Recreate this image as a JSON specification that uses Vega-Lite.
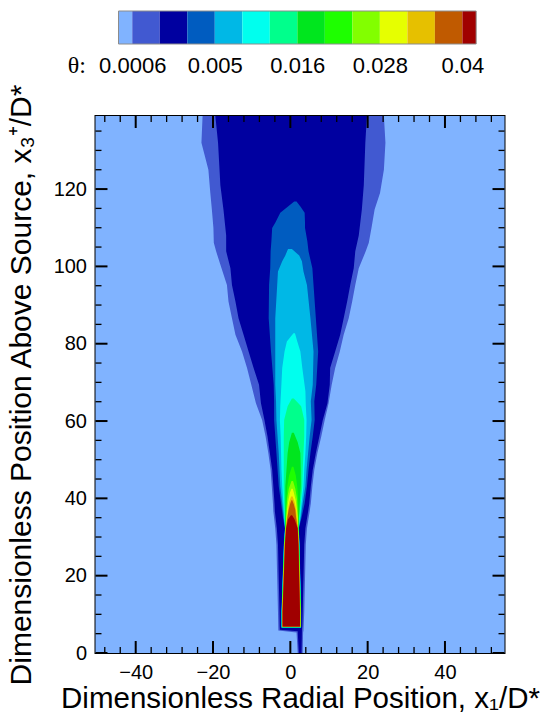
{
  "$schema": "https://vega.github.io/schema/vega-lite/v6.json",
  "padding": {"left": 5.5, "top": 10, "right": 0, "bottom": 0},
  "background": "white",
  "spacing": 72,
  "bounds": "flush",
  "config": {
    "font": "Liberation Sans",
    "axis": {"grid": false, "domain": false, "labelColor": "black", "titleColor": "black", "tickColor": "black", "labelFont": "Liberation Sans", "titleFont": "Liberation Sans", "titleFontWeight": "normal", "labelOverlap": false, "labelFlush": false}
  },
  "datasets": {
    "xmaj": [{"xl": -40}, {"xl": -20}, {"xl": 0}, {"xl": 20}, {"xl": 40}],
    "xmin": [{"xl": -48}, {"xl": -44}, {"xl": -36}, {"xl": -32}, {"xl": -28}, {"xl": -24}, {"xl": -16}, {"xl": -12}, {"xl": -8}, {"xl": -4}, {"xl": 4}, {"xl": 8}, {"xl": 12}, {"xl": 16}, {"xl": 24}, {"xl": 28}, {"xl": 32}, {"xl": 36}, {"xl": 44}, {"xl": 48}, {"xl": 52}],
    "ymaj": [{"y": 0}, {"y": 20}, {"y": 40}, {"y": 60}, {"y": 80}, {"y": 100}, {"y": 120}],
    "ymin": [{"y": 5}, {"y": 10}, {"y": 15}, {"y": 25}, {"y": 30}, {"y": 35}, {"y": 45}, {"y": 50}, {"y": 55}, {"y": 65}, {"y": 70}, {"y": 75}, {"y": 85}, {"y": 90}, {"y": 95}, {"y": 105}, {"y": 110}, {"y": 115}, {"y": 125}, {"y": 130}, {"y": 135}]
  },
  "vconcat": [
    {
      "width": 409,
      "height": 33,
      "view": {"stroke": null},
      "data": {"values": [
        {"band": 0, "i0": 0.5, "i1": 1},
        {"band": 1, "i0": 1, "i1": 2},
        {"band": 2, "i0": 2, "i1": 3},
        {"band": 3, "i0": 3, "i1": 4},
        {"band": 4, "i0": 4, "i1": 5},
        {"band": 5, "i0": 5, "i1": 6},
        {"band": 6, "i0": 6, "i1": 7},
        {"band": 7, "i0": 7, "i1": 8},
        {"band": 8, "i0": 8, "i1": 9},
        {"band": 9, "i0": 9, "i1": 10},
        {"band": 10, "i0": 10, "i1": 11},
        {"band": 11, "i0": 11, "i1": 12},
        {"band": 12, "i0": 12, "i1": 13},
        {"band": 13, "i0": 13, "i1": 13.5}
      ]},
      "layer": [
        {
          "mark": {"type": "rect"},
          "encoding": {
            "x": {"field": "i0", "type": "quantitative",
              "scale": {"domain": [-0.336, 14.53], "nice": false, "zero": false},
              "axis": {"values": [1, 4, 7, 10, 13],
                "labelExpr": "datum.value == 1 ? '0.0006' : datum.value == 4 ? '0.005' : datum.value == 7 ? '0.016' : datum.value == 10 ? '0.028' : '0.04'",
                "ticks": false, "tickSize": 0, "labelPadding": 28, "labelBaseline": "alphabetic", "labelFontSize": 22,
                "title": "θ:", "titleFont": "Liberation Serif", "titleFontSize": 24, "titleFontWeight": "normal",
                "titleAlign": "right", "titleX": -10, "titleY": 28.5, "titleBaseline": "alphabetic"}},
            "x2": {"field": "i1"},
            "color": {"field": "band", "type": "ordinal",
              "scale": {"domain": [0,1,2,3,4,5,6,7,8,9,10,11,12,13],
                "range": ["#80b3ff","#4159d1","#0000a0","#005cc0","#00b8e6","#00ffee","#00ff8c","#00e61e","#1eff00","#82ff00","#e6ff00","#e6c000","#c05a00","#a00000"]},
              "legend": null}
          }
        },
        {
          "data": {"values": [{"i0": 0.5, "i1": 13.5}]},
          "mark": {"type": "rect", "filled": false, "stroke": "#8c8c8c", "strokeWidth": 1},
          "encoding": {
            "x": {"field": "i0", "type": "quantitative"},
            "x2": {"field": "i1"}
          }
        }
      ]
    },
    {
      "width": 409,
      "height": 537,
      "view": {"stroke": "black", "strokeWidth": 2},
      "data": {"values": [
        {"band":1,"y":0,"xl":1.9,"xr":3.2},{"band":1,"y":5.3,"xl":1.6,"xr":3.3},{"band":1,"y":5.8,"xl":-3.1,"xr":3.4},{"band":1,"y":10.7,"xl":-3.2,"xr":3.6},{"band":1,"y":19.3,"xl":-3.4,"xr":3.8},{"band":1,"y":28,"xl":-3.6,"xr":4.0},{"band":1,"y":32.3,"xl":-3.9,"xr":4.3},{"band":1,"y":36.6,"xl":-4.4,"xr":5.0},{"band":1,"y":38.7,"xl":-4.5,"xr":5.3},{"band":1,"y":43.1,"xl":-4.8,"xr":5.7},{"band":1,"y":47.4,"xl":-5.1,"xr":6.2},{"band":1,"y":51.7,"xl":-5.7,"xr":7.0},{"band":1,"y":56,"xl":-6.4,"xr":8.0},{"band":1,"y":60.3,"xl":-7.3,"xr":8.9},{"band":1,"y":64.6,"xl":-8.9,"xr":9.9},{"band":1,"y":69.4,"xl":-10.1,"xr":10.7},{"band":1,"y":73.7,"xl":-11.2,"xr":11.6},{"band":1,"y":78,"xl":-12.5,"xr":12.8},{"band":1,"y":82.3,"xl":-14.2,"xr":13.8},{"band":1,"y":86.6,"xl":-15.1,"xr":15.1},{"band":1,"y":90.9,"xl":-16.0,"xr":16.0},{"band":1,"y":95.2,"xl":-16.4,"xr":16.8},{"band":1,"y":99.5,"xl":-17.8,"xr":17.7},{"band":1,"y":103.9,"xl":-19.2,"xr":19.5},{"band":1,"y":106.1,"xl":-19.8,"xr":20.3},{"band":1,"y":110,"xl":-19.9,"xr":21.0},{"band":1,"y":114.7,"xl":-20.3,"xr":21.8},{"band":1,"y":119,"xl":-20.7,"xr":23.2},{"band":1,"y":125,"xl":-21.2,"xr":24.2},{"band":1,"y":132,"xl":-23.0,"xr":24.6},{"band":1,"y":138.9,"xl":-22.7,"xr":24.2},
        {"band":2,"y":0,"xl":2.2,"xr":2.9},{"band":2,"y":5.6,"xl":1.9,"xr":3.0},{"band":2,"y":6.0,"xl":-2.7,"xr":3.0},{"band":2,"y":7.0,"xl":-2.75,"xr":3.1},{"band":2,"y":10.7,"xl":-2.8,"xr":3.2},{"band":2,"y":19.3,"xl":-3.0,"xr":3.4},{"band":2,"y":28,"xl":-3.2,"xr":3.6},{"band":2,"y":32.3,"xl":-3.5,"xr":3.9},{"band":2,"y":36.6,"xl":-4.0,"xr":4.6},{"band":2,"y":38.7,"xl":-4.1,"xr":4.9},{"band":2,"y":43.1,"xl":-4.4,"xr":5.3},{"band":2,"y":47.4,"xl":-4.7,"xr":5.8},{"band":2,"y":51.7,"xl":-5.3,"xr":6.6},{"band":2,"y":56,"xl":-5.9,"xr":7.5},{"band":2,"y":60.3,"xl":-6.7,"xr":8.4},{"band":2,"y":64.6,"xl":-7.6,"xr":9.6},{"band":2,"y":69.4,"xl":-8.1,"xr":10.2},{"band":2,"y":73.7,"xl":-9.5,"xr":10.3},{"band":2,"y":78,"xl":-10.8,"xr":11.6},{"band":2,"y":82.3,"xl":-12.1,"xr":12.9},{"band":2,"y":86.6,"xl":-13.4,"xr":13.8},{"band":2,"y":90.9,"xl":-14.2,"xr":14.7},{"band":2,"y":95.2,"xl":-15.1,"xr":15.5},{"band":2,"y":99.5,"xl":-15.5,"xr":16.4},{"band":2,"y":103.9,"xl":-16.6,"xr":16.8},{"band":2,"y":108,"xl":-16.6,"xr":17.7},{"band":2,"y":114.7,"xl":-17.3,"xr":18.5},{"band":2,"y":121,"xl":-18.1,"xr":19.0},{"band":2,"y":132,"xl":-18.7,"xr":19.4},{"band":2,"y":138.9,"xl":-19.4,"xr":19.8},
        {"band":3,"y":6.55,"xl":-2.3,"xr":2.8},{"band":3,"y":10.7,"xl":-2.3,"xr":2.8},{"band":3,"y":19.3,"xl":-2.0,"xr":2.6},{"band":3,"y":28,"xl":-1.7,"xr":2.4},{"band":3,"y":32.3,"xl":-1.4,"xr":2.2},{"band":3,"y":35,"xl":-1.9,"xr":2.9},{"band":3,"y":38.7,"xl":-2.4,"xr":3.7},{"band":3,"y":43.1,"xl":-3.0,"xr":4.3},{"band":3,"y":47.4,"xl":-3.3,"xr":4.7},{"band":3,"y":51.7,"xl":-3.6,"xr":5.2},{"band":3,"y":56,"xl":-3.9,"xr":5.8},{"band":3,"y":60.3,"xl":-4.2,"xr":6.3},{"band":3,"y":65.1,"xl":-4.2,"xr":6.2},{"band":3,"y":69.4,"xl":-4.3,"xr":6.7},{"band":3,"y":78,"xl":-5.0,"xr":7.2},{"band":3,"y":86.6,"xl":-5.6,"xr":6.6},{"band":3,"y":95.2,"xl":-5.5,"xr":6.0},{"band":3,"y":99.5,"xl":-5.2,"xr":5.7},{"band":3,"y":103.9,"xl":-5.1,"xr":4.7},{"band":3,"y":106.5,"xl":-4.9,"xr":4.4},{"band":3,"y":109.9,"xl":-4.7,"xr":3.8},{"band":3,"y":111.3,"xl":-3.9,"xr":3.8},{"band":3,"y":113.9,"xl":-2.6,"xr":3.7},{"band":3,"y":115.5,"xl":-0.6,"xr":2.6},{"band":3,"y":116.8,"xl":1.0,"xr":1.6},
        {"band":4,"y":6.58,"xl":-2.27,"xr":2.77},{"band":4,"y":10.7,"xl":-2.27,"xr":2.77},{"band":4,"y":19.3,"xl":-1.97,"xr":2.57},{"band":4,"y":28,"xl":-1.67,"xr":2.37},{"band":4,"y":32.3,"xl":-1.37,"xr":2.17},{"band":4,"y":35,"xl":-1.7,"xr":2.7},{"band":4,"y":38.7,"xl":-2.1,"xr":3.2},{"band":4,"y":43.1,"xl":-2.6,"xr":3.9},{"band":4,"y":47.4,"xl":-2.8,"xr":4.2},{"band":4,"y":51.7,"xl":-3.0,"xr":4.6},{"band":4,"y":56,"xl":-3.3,"xr":5.0},{"band":4,"y":60.3,"xl":-3.6,"xr":5.5},{"band":4,"y":65.1,"xl":-3.7,"xr":5.3},{"band":4,"y":69.4,"xl":-3.9,"xr":5.8},{"band":4,"y":78,"xl":-3.9,"xr":6.0},{"band":4,"y":86.6,"xl":-3.9,"xr":5.2},{"band":4,"y":95.2,"xl":-3.4,"xr":4.3},{"band":4,"y":98.7,"xl":-3.2,"xr":3.4},{"band":4,"y":101.3,"xl":-2.1,"xr":3.0},{"band":4,"y":102.8,"xl":-1.3,"xr":2.3},{"band":4,"y":104.5,"xl":-0.6,"xr":0.4},
        {"band":5,"y":6.61,"xl":-2.24,"xr":2.74},{"band":5,"y":10.7,"xl":-2.24,"xr":2.74},{"band":5,"y":19.3,"xl":-1.94,"xr":2.54},{"band":5,"y":28,"xl":-1.64,"xr":2.34},{"band":5,"y":32.3,"xl":-1.34,"xr":2.14},{"band":5,"y":35,"xl":-1.55,"xr":2.5},{"band":5,"y":38.7,"xl":-1.8,"xr":2.9},{"band":5,"y":43.1,"xl":-2.1,"xr":3.4},{"band":5,"y":47.4,"xl":-2.3,"xr":3.6},{"band":5,"y":51.7,"xl":-2.4,"xr":3.9},{"band":5,"y":56,"xl":-2.5,"xr":4.1},{"band":5,"y":60.3,"xl":-2.7,"xr":4.2},{"band":5,"y":64,"xl":-2.6,"xr":4.0},{"band":5,"y":67.7,"xl":-2.4,"xr":3.9},{"band":5,"y":73.7,"xl":-2.1,"xr":3.1},{"band":5,"y":78,"xl":-1.5,"xr":2.6},{"band":5,"y":80.6,"xl":-0.9,"xr":1.8},{"band":5,"y":82.7,"xl":0.8,"xr":1.2},
        {"band":6,"y":6.64,"xl":-2.21,"xr":2.71},{"band":6,"y":10.7,"xl":-2.21,"xr":2.71},{"band":6,"y":19.3,"xl":-1.91,"xr":2.51},{"band":6,"y":28,"xl":-1.61,"xr":2.31},{"band":6,"y":32.3,"xl":-1.31,"xr":2.11},{"band":6,"y":35,"xl":-1.45,"xr":2.35},{"band":6,"y":38.7,"xl":-1.6,"xr":2.7},{"band":6,"y":43.1,"xl":-1.7,"xr":3.1},{"band":6,"y":47.4,"xl":-1.7,"xr":3.2},{"band":6,"y":51.7,"xl":-1.7,"xr":3.4},{"band":6,"y":56,"xl":-1.7,"xr":3.6},{"band":6,"y":60.3,"xl":-1.6,"xr":3.6},{"band":6,"y":63.8,"xl":-0.7,"xr":2.8},{"band":6,"y":65.8,"xl":0.4,"xr":0.9},
        {"band":7,"y":6.67,"xl":-2.18,"xr":2.68},{"band":7,"y":10.7,"xl":-2.18,"xr":2.68},{"band":7,"y":19.3,"xl":-1.88,"xr":2.48},{"band":7,"y":28,"xl":-1.58,"xr":2.28},{"band":7,"y":32.3,"xl":-1.28,"xr":2.08},{"band":7,"y":34.9,"xl":-1.3,"xr":2.2},{"band":7,"y":38,"xl":-1.3,"xr":2.4},{"band":7,"y":43.1,"xl":-1.3,"xr":2.7},{"band":7,"y":47.4,"xl":-1.0,"xr":2.7},{"band":7,"y":51.7,"xl":-0.7,"xr":2.6},{"band":7,"y":54.5,"xl":-0.3,"xr":1.9},{"band":7,"y":57,"xl":0.4,"xr":0.9},
        {"band":8,"y":6.7,"xl":-2.15,"xr":2.65},{"band":8,"y":10.7,"xl":-2.15,"xr":2.65},{"band":8,"y":19.3,"xl":-1.85,"xr":2.45},{"band":8,"y":28,"xl":-1.55,"xr":2.25},{"band":8,"y":32.3,"xl":-1.25,"xr":2.05},{"band":8,"y":34.9,"xl":-1.2,"xr":2.1},{"band":8,"y":37,"xl":-1.15,"xr":2.1},{"band":8,"y":40,"xl":-1.0,"xr":2.0},{"band":8,"y":43,"xl":-0.8,"xr":1.8},{"band":8,"y":46,"xl":-0.3,"xr":1.4},{"band":8,"y":48.2,"xl":0.4,"xr":0.8},
        {"band":9,"y":6.73,"xl":-2.12,"xr":2.62},{"band":9,"y":10.7,"xl":-2.12,"xr":2.62},{"band":9,"y":19.3,"xl":-1.82,"xr":2.42},{"band":9,"y":28,"xl":-1.52,"xr":2.22},{"band":9,"y":32.3,"xl":-1.22,"xr":2.02},{"band":9,"y":34.9,"xl":-1.1,"xr":2.0},{"band":9,"y":37,"xl":-1.0,"xr":1.9},{"band":9,"y":40,"xl":-0.8,"xr":1.7},{"band":9,"y":42.5,"xl":-0.4,"xr":1.3},{"band":9,"y":44.5,"xl":0.3,"xr":0.7},
        {"band":10,"y":6.76,"xl":-2.09,"xr":2.59},{"band":10,"y":10.7,"xl":-2.09,"xr":2.59},{"band":10,"y":19.3,"xl":-1.79,"xr":2.39},{"band":10,"y":28,"xl":-1.49,"xr":2.19},{"band":10,"y":32.3,"xl":-1.19,"xr":1.99},{"band":10,"y":34.9,"xl":-1.0,"xr":1.9},{"band":10,"y":37,"xl":-0.85,"xr":1.7},{"band":10,"y":39.5,"xl":-0.5,"xr":1.4},{"band":10,"y":41.5,"xl":-0.1,"xr":0.9},{"band":10,"y":42.5,"xl":0.3,"xr":0.6},
        {"band":11,"y":6.79,"xl":-2.06,"xr":2.56},{"band":11,"y":10.7,"xl":-2.06,"xr":2.56},{"band":11,"y":19.3,"xl":-1.76,"xr":2.36},{"band":11,"y":28,"xl":-1.46,"xr":2.16},{"band":11,"y":32.3,"xl":-1.16,"xr":1.96},{"band":11,"y":34.9,"xl":-0.9,"xr":1.7},{"band":11,"y":37,"xl":-0.65,"xr":1.5},{"band":11,"y":39,"xl":-0.3,"xr":1.1},{"band":11,"y":40.5,"xl":0.2,"xr":0.6},
        {"band":12,"y":6.82,"xl":-2.03,"xr":2.53},{"band":12,"y":10.7,"xl":-2.03,"xr":2.53},{"band":12,"y":19.3,"xl":-1.73,"xr":2.33},{"band":12,"y":28,"xl":-1.43,"xr":2.13},{"band":12,"y":32.3,"xl":-1.13,"xr":1.93},{"band":12,"y":34.9,"xl":-0.8,"xr":1.5},{"band":12,"y":37,"xl":-0.45,"xr":1.3},{"band":12,"y":38.5,"xl":-0.1,"xr":0.9},{"band":12,"y":39.5,"xl":0.3,"xr":0.5},
        {"band":13,"y":6.85,"xl":-2.0,"xr":2.5},{"band":13,"y":10.7,"xl":-2.0,"xr":2.5},{"band":13,"y":19.3,"xl":-1.7,"xr":2.3},{"band":13,"y":28,"xl":-1.4,"xr":2.1},{"band":13,"y":32.3,"xl":-1.1,"xr":1.9},{"band":13,"y":34.6,"xl":-0.6,"xr":1.1},{"band":13,"y":35.6,"xl":0.15,"xr":0.45}
      ]},
      "layer": [
        {
          "data": {"values": [{}]},
          "mark": {"type": "rect", "color": "#80b3ff"},
          "encoding": {}
        },
        {
          "mark": {"type": "area", "orient": "horizontal", "clip": true},
          "encoding": {
            "y": {"field": "y", "type": "quantitative",
              "scale": {"domain": [0, 138.9], "nice": false, "zero": false},
              "axis": {"orient": "left", "values": [0,20,40,60,80,100,120],
                "ticks": false, "tickSize": 0, "labelPadding": 9, "labelFontSize": 20,
                "title": "Dimensionless Position Above Source, x₃⁺/D*", "titleFontSize": 30, "titlePadding": 16.5}},
            "x": {"field": "xl", "type": "quantitative",
              "scale": {"domain": [-50.4, 55.4], "nice": false, "zero": false},
              "axis": {"orient": "bottom", "values": [-40,-20,0,20,40],
                "ticks": false, "tickSize": 0, "labelPadding": 9.5, "labelFontSize": 20,
                "title": "Dimensionless Radial Position, x₁/D*", "titleFontSize": 29.5, "titlePadding": 1.5}},
            "x2": {"field": "xr"},
            "color": {"field": "band", "type": "ordinal",
              "scale": {"domain": [0,1,2,3,4,5,6,7,8,9,10,11,12,13],
                "range": ["#80b3ff","#4159d1","#0000a0","#005cc0","#00b8e6","#00ffee","#00ff8c","#00e61e","#1eff00","#82ff00","#e6ff00","#e6c000","#c05a00","#a00000"]},
              "legend": null}
          }
        },
        {
          "data": {"name": "xmaj"},
          "mark": {"type": "rule", "color": "black", "strokeWidth": 2},
          "encoding": {"x": {"field": "xl", "type": "quantitative"}, "y": {"datum": 0, "type": "quantitative"}, "y2": {"datum": 3.1}}
        },
        {
          "data": {"name": "xmaj"},
          "mark": {"type": "rule", "color": "black", "strokeWidth": 2},
          "encoding": {"x": {"field": "xl", "type": "quantitative"}, "y": {"datum": 138.9, "type": "quantitative"}, "y2": {"datum": 135.8}}
        },
        {
          "data": {"name": "xmin"},
          "mark": {"type": "rule", "color": "black", "strokeWidth": 1.3},
          "encoding": {"x": {"field": "xl", "type": "quantitative"}, "y": {"datum": 0, "type": "quantitative"}, "y2": {"datum": 1.55}}
        },
        {
          "data": {"name": "xmin"},
          "mark": {"type": "rule", "color": "black", "strokeWidth": 1.3},
          "encoding": {"x": {"field": "xl", "type": "quantitative"}, "y": {"datum": 138.9, "type": "quantitative"}, "y2": {"datum": 137.35}}
        },
        {
          "data": {"name": "ymaj"},
          "mark": {"type": "rule", "color": "black", "strokeWidth": 2},
          "encoding": {"y": {"field": "y", "type": "quantitative"}, "x": {"datum": -50.4, "type": "quantitative"}, "x2": {"datum": -47.3}}
        },
        {
          "data": {"name": "ymaj"},
          "mark": {"type": "rule", "color": "black", "strokeWidth": 2},
          "encoding": {"y": {"field": "y", "type": "quantitative"}, "x": {"datum": 55.4, "type": "quantitative"}, "x2": {"datum": 52.3}}
        },
        {
          "data": {"name": "ymin"},
          "mark": {"type": "rule", "color": "black", "strokeWidth": 1.3},
          "encoding": {"y": {"field": "y", "type": "quantitative"}, "x": {"datum": -50.4, "type": "quantitative"}, "x2": {"datum": -48.85}}
        },
        {
          "data": {"name": "ymin"},
          "mark": {"type": "rule", "color": "black", "strokeWidth": 1.3},
          "encoding": {"y": {"field": "y", "type": "quantitative"}, "x": {"datum": 55.4, "type": "quantitative"}, "x2": {"datum": 53.85}}
        }
      ]
    }
  ]
}
